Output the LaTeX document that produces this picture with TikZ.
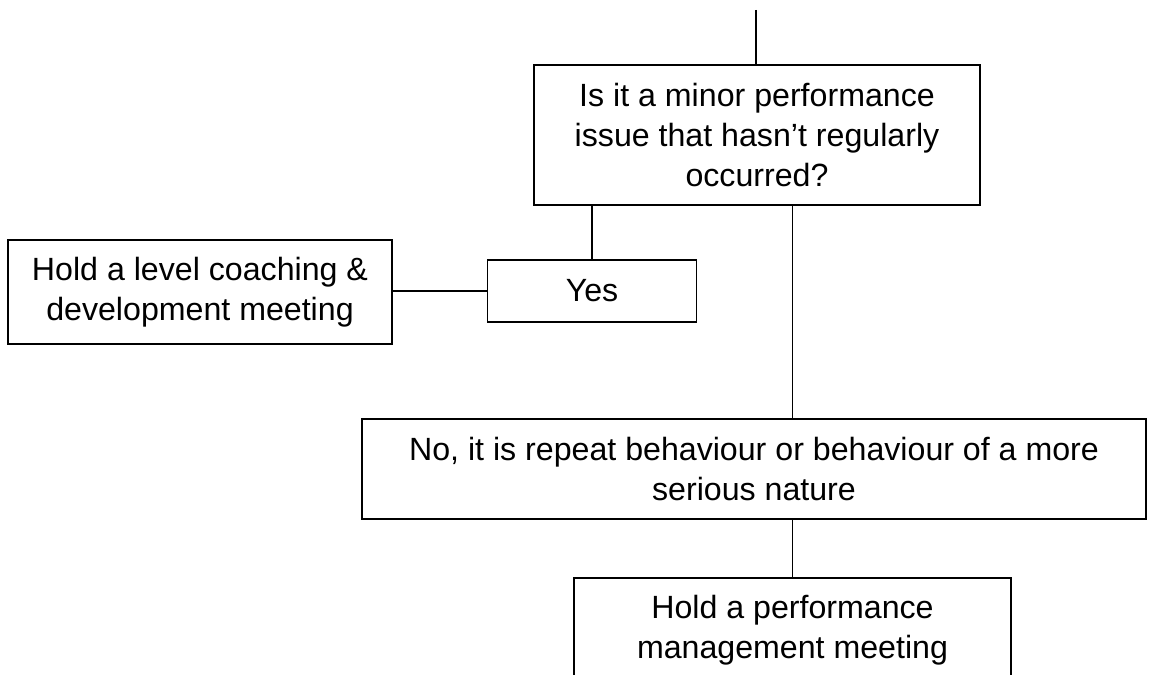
\documentclass[tikz,border=0pt]{standalone}
\usepackage{fontspec}
\setmainfont{Liberation Sans}
\usetikzlibrary{positioning}

\begin{document}
\begin{tikzpicture}[x=0.02cm, y=-0.02cm,
  box/.style={draw, line width=0.8pt, align=center, inner sep=0pt,
    font=\fontsize{18.3}{23}\selectfont},
  link/.style={line width=0.8pt}]

  % Page size (clip the box that runs off the bottom)
  \useasboundingbox (0,0) rectangle (1153,675);
  \clip (0,0) rectangle (1153,675);

  % The question
  \node[box, minimum width=8.92cm, minimum height=2.8cm] (question) at (757,135)
    {Is it a minor performance\\issue that hasn’t regularly\\occurred?};

  % Yes branch
  \node[box, minimum width=4.18cm, minimum height=1.24cm] (yes) at (592,291) {Yes};
  \node[box, minimum width=7.68cm, minimum height=2.08cm] (coaching) at (200,292)
    {Hold a level coaching \&\\development meeting};

  % No branch
  \node[box, minimum width=15.68cm, minimum height=2cm] (no) at (754,469)
    {No, it is repeat behaviour or behaviour of a more\\serious nature};
  \node[box, minimum width=8.74cm, minimum height=2.08cm] (perf) at (792.5,630)
    {Hold a performance\\management meeting};

  % Incoming line from above
  \coordinate (start) at (756,10);
  \draw[link] (start) -- (start |- question.north);

  % Connectors
  \draw[link] (yes.north) -- (yes.north |- question.south);
  \draw[link] (yes.west) -- (yes.west -| coaching.east);
  \draw[link] (perf.north |- question.south) -- (perf.north |- no.north);
  \draw[link] (perf.north |- no.south) -- (perf.north);

\end{tikzpicture}
\end{document}
